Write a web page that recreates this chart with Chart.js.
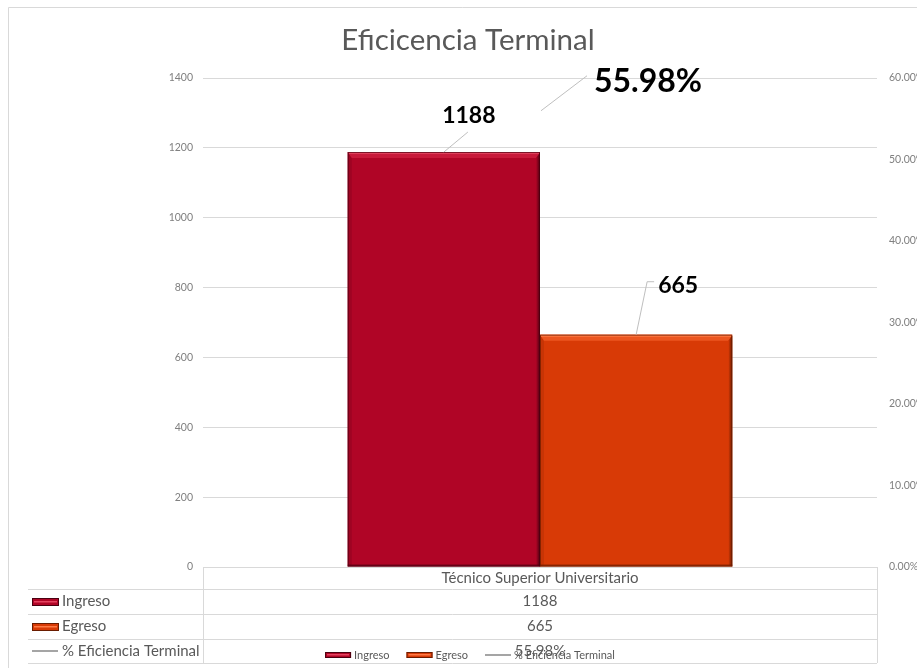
<!DOCTYPE html>
<html><head><meta charset="utf-8">
<script src="https://cdn.jsdelivr.net/npm/chart.js@4"></script>
<style>html,body{margin:0;padding:0;background:#fff}#wrap{width:917px;height:668px;position:relative}canvas{display:block}</style>
</head><body><div id="wrap"><canvas id="c" width="917" height="668"></canvas></div>
<script>
// ---- data ----
const categories = ['Técnico Superior Universitario'];
const seriesNames = ['Ingreso', 'Egreso', '% Eficiencia Terminal'];
const ingreso = [1188];
const egreso = [665];
const eficiencia = [55.98];
const leftTicks = [0, 200, 400, 600, 800, 1000, 1200, 1400];
const rightTicks = [0, 10, 20, 30, 40, 50, 60];
const titleText = 'Eficicencia Terminal';

const FONT = 'Lato, "Open Sans", "DejaVu Sans", sans-serif';
Chart.defaults.font.family = FONT;

const COLORS = {
  ingreso: { body: '#B00526', top: '#C8193A', hi: '#E5435F', dark: '#4A0010', left: '#9E0422' },
  egreso:  { body: '#D83A06', top: '#EC5620', hi: '#FF7A45', dark: '#6A1C00', left: '#C73405' },
  line: '#A5A5A5'
};

function fmtPct(v) { return v.toFixed(2) + '%'; }

function bevel(ctx, l, t, r, b, c) {
  const bw = 6, sw = 4;
  ctx.save();
  ctx.fillStyle = c.left;
  ctx.beginPath(); ctx.moveTo(l, t); ctx.lineTo(l + sw, t + bw); ctx.lineTo(l + sw, b - 2); ctx.lineTo(l, b); ctx.closePath(); ctx.fill();
  ctx.fillStyle = c.top;
  ctx.beginPath(); ctx.moveTo(l, t); ctx.lineTo(r, t); ctx.lineTo(r - sw, t + bw); ctx.lineTo(l + sw, t + bw); ctx.closePath(); ctx.fill();
  ctx.fillStyle = c.hi;
  ctx.fillRect(l + 1, t, r - l - 2, 2);
  const g = ctx.createLinearGradient(r - sw, 0, r, 0);
  g.addColorStop(0, c.body); g.addColorStop(1, c.dark);
  ctx.fillStyle = g;
  ctx.beginPath(); ctx.moveTo(r, t + 1); ctx.lineTo(r, b); ctx.lineTo(r - sw, b - 2); ctx.lineTo(r - sw, t + bw); ctx.closePath(); ctx.fill();
  ctx.fillStyle = c.dark;
  ctx.globalAlpha = 0.6;
  ctx.fillRect(l, b - 2, r - l, 2);
  ctx.globalAlpha = 0.7;
  ctx.strokeStyle = c.dark; ctx.lineWidth = 1;
  ctx.strokeRect(l + 0.5, t + 0.5, r - l - 1, b - t - 1);
  ctx.restore();
}

function swatch(ctx, x, y, w, h, c) {
  ctx.save();
  ctx.fillStyle = c.body; ctx.fillRect(x, y, w, h);
  ctx.fillStyle = c.hi; ctx.fillRect(x + 2, y + Math.round(h / 2) - 1, w - 4, 1.5);
  ctx.strokeStyle = c.dark; ctx.lineWidth = 1; ctx.strokeRect(x + 0.5, y + 0.5, w - 1, h - 1);
  ctx.restore();
}

const custom = {
  id: 'custom',
  beforeDraw(chart) {
    const ctx = chart.ctx;
    ctx.save();
    ctx.fillStyle = '#fff'; ctx.fillRect(0, 0, chart.width, chart.height);
    ctx.strokeStyle = '#D9D9D9'; ctx.lineWidth = 1;
    ctx.beginPath(); ctx.moveTo(8.5, chart.height); ctx.lineTo(8.5, 7.5); ctx.lineTo(chart.width, 7.5); ctx.stroke();
    // title
    ctx.fillStyle = '#595959';
    ctx.font = '29.5px ' + FONT; ctx.textAlign = 'center'; ctx.textBaseline = 'alphabetic';
    ctx.fillText(titleText, 468, 50);
    ctx.restore();
  },
  afterDatasetsDraw(chart) {
    const ctx = chart.ctx;
    [0, 1].forEach(di => {
      const meta = chart.getDatasetMeta(di);
      const c = di === 0 ? COLORS.ingreso : COLORS.egreso;
      meta.data.forEach(el => {
        const p = el.getProps(['x', 'y', 'base', 'width'], true);
        bevel(ctx, p.x - p.width / 2, p.y, p.x + p.width / 2, p.base, c);
      });
    });
  },
  afterDraw(chart) {
    const ctx = chart.ctx;
    const ca = chart.chartArea;
    ctx.save();
    // ---- data labels with leader lines ----
    ctx.strokeStyle = '#BFBFBF'; ctx.lineWidth = 1;
    ctx.fillStyle = '#000';
    const b0 = chart.getDatasetMeta(0).data[0];
    const b1 = chart.getDatasetMeta(1).data[0];
    const pt = chart.getDatasetMeta(2).data[0];
    ctx.beginPath(); ctx.moveTo(b0.x, b0.y); ctx.lineTo(b0.x + 24, b0.y - 20); ctx.stroke();
    ctx.font = 'bold 23px ' + FONT; ctx.textAlign = 'center'; ctx.textBaseline = 'alphabetic';
    ctx.fillText(String(ingreso[0]), b0.x + 25, b0.y - 29);
    ctx.beginPath(); ctx.moveTo(b1.x, b1.y); ctx.lineTo(b1.x + 11, b1.y - 53); ctx.lineTo(b1.x + 18, b1.y - 53); ctx.stroke();
    ctx.textAlign = 'left';
    ctx.fillText(String(egreso[0]), b1.x + 22, b1.y - 42);
    ctx.beginPath(); ctx.moveTo(pt.x + 1, pt.y); ctx.lineTo(pt.x + 47, pt.y - 35); ctx.stroke();
    ctx.font = 'bold 32px ' + FONT;
    ctx.fillText(fmtPct(eficiencia[0]), pt.x + 54, pt.y - 19);

    // ---- data table ----
    const L = 28, C = ca.left, R = ca.right;
    const rows = [ca.bottom, ca.bottom + 22, ca.bottom + 47, ca.bottom + 72, ca.bottom + 96];
    ctx.strokeStyle = '#D9D9D9'; ctx.lineWidth = 1;
    ctx.beginPath();
    ctx.moveTo(C, rows[0] + 0.5); ctx.lineTo(R, rows[0] + 0.5);
    for (let i = 1; i < rows.length; i++) { ctx.moveTo(L, rows[i] + 0.5); ctx.lineTo(R, rows[i] + 0.5); }
    ctx.moveTo(C + 0.5, rows[0]); ctx.lineTo(C + 0.5, rows[4]);
    ctx.moveTo(R + 0.5, rows[0]); ctx.lineTo(R + 0.5, rows[4]);
    ctx.stroke();
    ctx.fillStyle = '#595959';
    ctx.font = '15px ' + FONT; ctx.textBaseline = 'middle';
    const xs = categories.map((_, i) => chart.scales.x.getPixelForValue(i));
    const vals = [ingreso.map(String), egreso.map(String), eficiencia.map(fmtPct)];
    ctx.textAlign = 'center';
    categories.forEach((cat, i) => ctx.fillText(cat, xs[i], (rows[0] + rows[1]) / 2));
    for (let r = 0; r < 3; r++) {
      const cy = (rows[r + 1] + rows[r + 2]) / 2;
      ctx.textAlign = 'center';
      vals[r].forEach((v, i) => ctx.fillText(v, xs[i], cy));
      ctx.textAlign = 'left';
      if (r < 2) {
        swatch(ctx, 32, Math.round(cy) - 4, 27, 8, r === 0 ? COLORS.ingreso : COLORS.egreso);
        ctx.fillStyle = '#595959';
        ctx.fillText(seriesNames[r], 62, cy);
      } else {
        ctx.strokeStyle = COLORS.line; ctx.lineWidth = 2;
        ctx.beginPath(); ctx.moveTo(32, Math.round(cy)); ctx.lineTo(58, Math.round(cy)); ctx.stroke();
        ctx.fillText(seriesNames[r], 62, cy);
      }
    }

    // ---- legend ----
    ctx.font = '11px ' + FONT;
    const ly = 655;
    const boxW = 26, gapT = 3, gapI = 17;
    const widths = seriesNames.map(n => ctx.measureText(n).width);
    const total = widths.reduce((a, w) => a + boxW + gapT + w, 0) + gapI * (seriesNames.length - 1);
    let x = 470 - total / 2;
    seriesNames.forEach((n, i) => {
      if (i < 2) swatch(ctx, x, ly - 3, boxW, 6, i === 0 ? COLORS.ingreso : COLORS.egreso);
      else {
        ctx.strokeStyle = COLORS.line; ctx.lineWidth = 2;
        ctx.beginPath(); ctx.moveTo(x, ly); ctx.lineTo(x + boxW, ly); ctx.stroke();
      }
      ctx.fillStyle = '#595959'; ctx.textAlign = 'left'; ctx.textBaseline = 'middle';
      ctx.fillText(n, x + boxW + gapT, ly);
      x += boxW + gapT + widths[i] + gapI;
    });
    ctx.restore();
  }
};

new Chart(document.getElementById('c'), {
  data: {
    labels: categories,
    datasets: [
      { type: 'bar', label: seriesNames[0], data: ingreso, backgroundColor: COLORS.ingreso.body, yAxisID: 'y', order: 2 },
      { type: 'bar', label: seriesNames[1], data: egreso, backgroundColor: COLORS.egreso.body, yAxisID: 'y', order: 2 },
      { type: 'line', label: seriesNames[2], data: eficiencia, borderColor: COLORS.line, backgroundColor: COLORS.line, borderWidth: 2, pointRadius: 0, yAxisID: 'y1', order: 1 }
    ]
  },
  options: {
    responsive: false,
    animation: false,
    devicePixelRatio: 1,
    layout: { padding: { top: 78, left: 0, right: 0, bottom: 101 } },
    datasets: { bar: { categoryPercentage: 0.5705, barPercentage: 1 } },
    plugins: {
      legend: { display: false },
      tooltip: { enabled: false },
      title: { display: false }
    },
    scales: {
      x: { display: false, offset: true },
      y: {
        position: 'left', min: 0, max: 1400,
        afterBuildTicks: s => { s.ticks = leftTicks.map(v => ({ value: v })); },
        afterFit: s => { s.width = 203; },
        grid: { color: '#D9D9D9', drawTicks: false },
        border: { display: false },
        ticks: { padding: 10, color: '#808080', font: { size: 10.5 }, callback: v => String(v) }
      },
      y1: {
        position: 'right', min: 0, max: 60,
        afterBuildTicks: s => { s.ticks = rightTicks.map(v => ({ value: v })); },
        afterFit: s => { s.width = 40; },
        grid: { display: false, drawTicks: false },
        border: { display: false },
        ticks: { padding: 12, color: '#808080', font: { size: 10.5 }, callback: v => fmtPct(v) }
      }
    }
  },
  plugins: [custom]
});
</script>
</body></html>
